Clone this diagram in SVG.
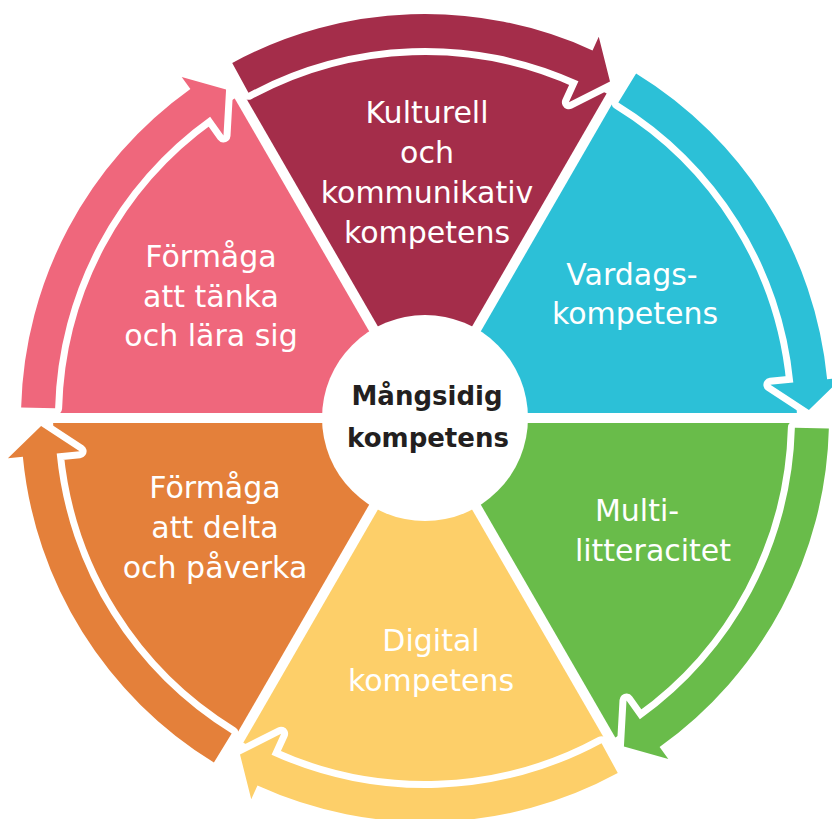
<svg xmlns="http://www.w3.org/2000/svg" xmlns:xlink="http://www.w3.org/1999/xlink" width="832" height="819" viewBox="0 0 832 819">
<style>
.lbl{font-family:"DejaVu Sans","Liberation Sans",sans-serif;font-size:30px;fill:#ffffff;text-anchor:middle}
.ctr{font-family:"DejaVu Sans","Liberation Sans",sans-serif;font-size:26px;font-weight:bold;fill:#231F20;text-anchor:middle}
.halo{stroke:#ffffff;stroke-width:14;stroke-linejoin:round;paint-order:stroke fill}
.div{stroke:#ffffff;stroke-width:10}
</style>
<defs>
<path id="wedge" d="M0,0 L372,0 A372,372 0 0 0 186,-322.16 Z"/>
<path id="arrow" d="M211.09,-344.47 A404,404 0 0 1 402.14,-38.72 L417.07,-40.16 L383.92,-8.04 L345.40,-33.26 L368.30,-35.46 A370,370 0 0 0 193.33,-315.48 Z"/>
</defs>
<rect width="832" height="819" fill="#ffffff"/>
<g id="node-kulturell">
<use xlink:href="#wedge" href="#wedge" transform="translate(425,418) rotate(-60)" fill="#A42D4A"/>
<text class="lbl" x="427" y="123">Kulturell</text>
<text class="lbl" x="427" y="163">och</text>
<text class="lbl" x="427" y="203">kommunikativ</text>
<text class="lbl" x="427" y="243">kompetens</text>
</g>
<g id="node-vardag">
<use xlink:href="#wedge" href="#wedge" transform="translate(425,418)" fill="#2CC0D7"/>
<text class="lbl" x="632" y="285">Vardags-</text>
<text class="lbl" x="635" y="324">kompetens</text>
</g>
<g id="node-multi">
<use xlink:href="#wedge" href="#wedge" transform="translate(425,418) rotate(60)" fill="#69BC4A"/>
<text class="lbl" x="637" y="521">Multi-</text>
<text class="lbl" x="653" y="561">litteracitet</text>
</g>
<g id="node-digital">
<use xlink:href="#wedge" href="#wedge" transform="translate(425,418) rotate(120)" fill="#FDCF69"/>
<text class="lbl" x="431" y="651">Digital</text>
<text class="lbl" x="431" y="691">kompetens</text>
</g>
<g id="node-delta">
<use xlink:href="#wedge" href="#wedge" transform="translate(425,418) rotate(180)" fill="#E4803A"/>
<text class="lbl" x="215" y="498">Förmåga</text>
<text class="lbl" x="215" y="538">att delta</text>
<text class="lbl" x="215" y="578">och påverka</text>
</g>
<g id="node-tanka">
<use xlink:href="#wedge" href="#wedge" transform="translate(425,418) rotate(-120)" fill="#EF677C"/>
<text class="lbl" x="211" y="267">Förmåga</text>
<text class="lbl" x="211" y="307">att tänka</text>
<text class="lbl" x="211" y="346">och lära sig</text>
</g>
<g id="dividers" transform="translate(425,418)">
<line class="div" x1="-380" y1="0" x2="380" y2="0"/>
<line class="div" x1="-190" y1="329.09" x2="190" y2="-329.09"/>
<line class="div" x1="-190" y1="-329.09" x2="190" y2="329.09"/>
</g>
<g id="node-center">
<circle cx="425" cy="418" r="103" fill="#ffffff"/>
<text class="ctr" x="427" y="405">Mångsidig</text>
<text class="ctr" x="428" y="447">kompetens</text>
</g>
<g id="connectors">
<use class="halo" xlink:href="#arrow" href="#arrow" transform="translate(425,418)" fill="#2CC0D7"/>
<use class="halo" xlink:href="#arrow" href="#arrow" transform="translate(425,418) rotate(60)" fill="#69BC4A"/>
<use class="halo" xlink:href="#arrow" href="#arrow" transform="translate(425,418) rotate(120)" fill="#FDCF69"/>
<use class="halo" xlink:href="#arrow" href="#arrow" transform="translate(425,418) rotate(180)" fill="#E4803A"/>
<use class="halo" xlink:href="#arrow" href="#arrow" transform="translate(425,418) rotate(-120)" fill="#EF677C"/>
<use class="halo" xlink:href="#arrow" href="#arrow" transform="translate(425,418) rotate(-60)" fill="#A42D4A"/>
</g>
</svg>
